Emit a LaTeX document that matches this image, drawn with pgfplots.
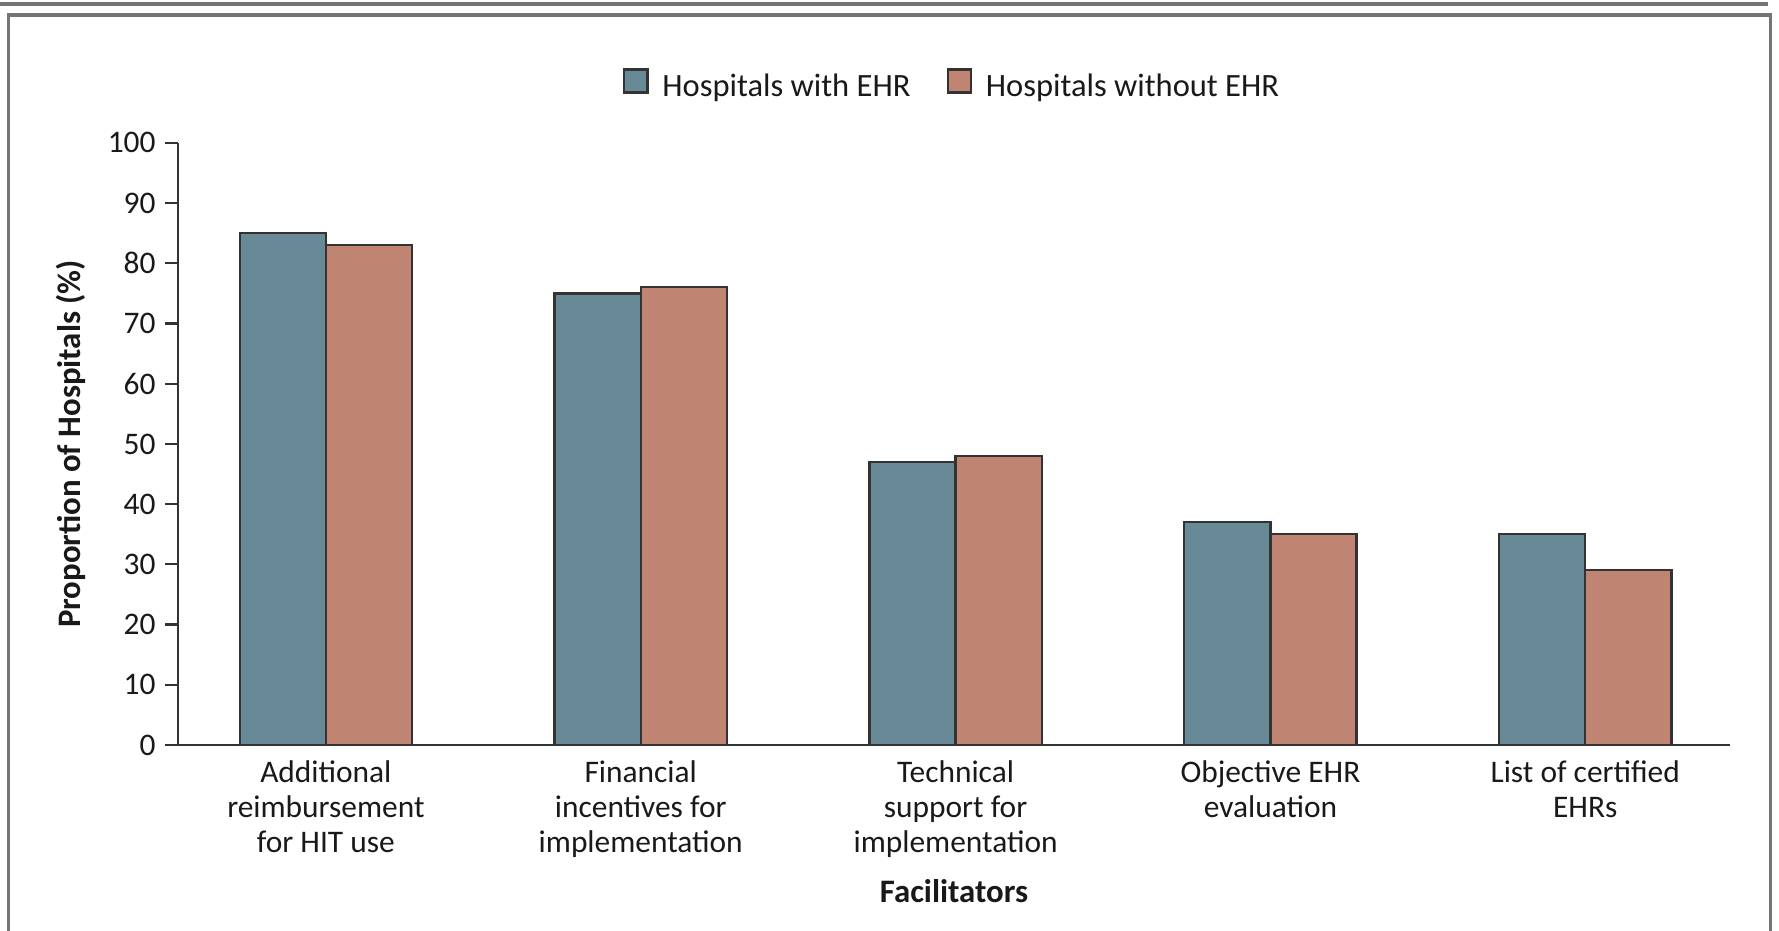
\documentclass[border=0pt]{standalone}
\usepackage{fontspec}
\setmainfont{Carlito}
\usepackage{pgfplots}
\pgfplotsset{compat=1.18}
\definecolor{ehrteal}{HTML}{678A96}
\definecolor{ehrsalmon}{HTML}{C08472}
\definecolor{framegray}{HTML}{757575}
\begin{document}
\begin{tikzpicture}
\useasboundingbox (0,0) rectangle (640pt,334.9pt);
\draw[line width=1.4pt, color=framegray] (0,333.6pt) -- (636pt,333.6pt);
\draw[line width=1.1pt, color=framegray] (2.9pt,-2pt) -- (2.9pt,329.5pt) -- (636.8pt,329.5pt) -- (636.8pt,-2pt);
\begin{axis}[
  at={(64pt,66.9pt)}, anchor=south west,
  scale only axis, width=558.4pt, height=216.6pt,
  ybar=0pt, bar width=31pt,
  xmin=-0.47, xmax=4.46, ymin=0, ymax=100,
  axis x line*=bottom, axis y line*=left,
  axis line style={line width=0.8pt, color=black!80},
  xtick=data,
  xticklabels={Additional\\reimbursement\\for HIT use, Financial\\incentives for\\implementation, Technical\\support for\\implementation, Objective EHR\\evaluation, List of certified\\EHRs},
  x tick style={draw=none},
  ytick={0,10,...,100},
  tick align=outside, major tick length=4.5pt,
  y tick style={line width=0.8pt, color=black!80},
  /pgf/number format/assume math mode=true,
  ticklabel style={font=\fontsize{11.3}{12.6}\selectfont, text=black!90},
  xticklabel style={align=center, yshift=2.4pt},
  ylabel={Proportion of Hospitals (\%)},
  xlabel={Facilitators},
  every axis y label/.style={at={(axis description cs:-0.069,0.5)}, rotate=90, anchor=center, font=\bfseries\fontsize{11.8}{13}\selectfont, text=black!90},
  every axis x label/.style={at={(axis description cs:0.5,-0.242)}, anchor=center, font=\bfseries\fontsize{11.8}{13}\selectfont, text=black!90},
  legend style={draw=none, fill=none, legend columns=2, at={(axis description cs:0.5,1.092)}, anchor=center, font=\fontsize{11.7}{13}\selectfont, text=black!90, /tikz/every even column/.append style={column sep=11pt}, /tikz/every odd column/.append style={column sep=3pt}},
  sqlegend/.style={legend image code/.code={\draw[##1, line width=0.8pt] (0pt,-1.8pt) rectangle (8.3pt,6.5pt);}},
]
\addplot[fill=ehrteal, draw=black!80, line width=0.8pt, sqlegend] coordinates {(0,85) (1,75) (2,47) (3,37) (4,35)};
\addplot[fill=ehrsalmon, draw=black!80, line width=0.8pt, sqlegend] coordinates {(0,83) (1,76) (2,48) (3,35) (4,29)};
\legend{Hospitals with EHR, Hospitals without EHR}
\end{axis}
\end{tikzpicture}
\end{document}
